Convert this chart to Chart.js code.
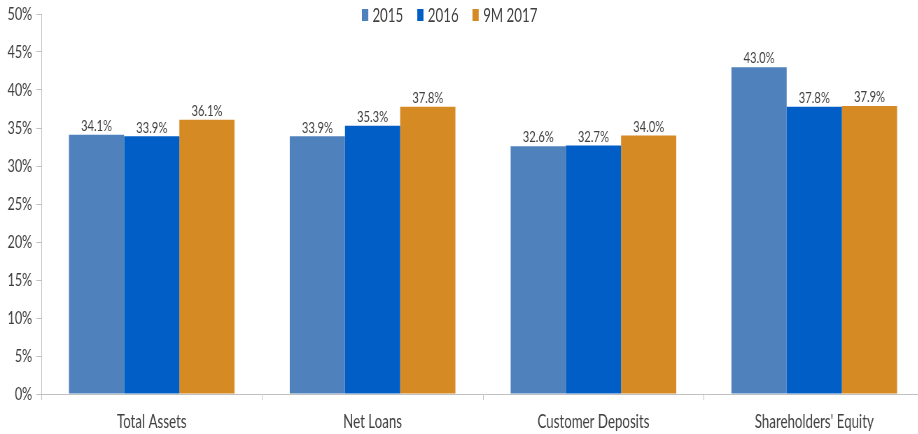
<!DOCTYPE html>
<html>
<head>
<meta charset="utf-8">
<script src="https://cdn.jsdelivr.net/npm/chart.js@4"></script>
<style>
  html, body { margin: 0; padding: 0; background: #fff; overflow: hidden; }
  /* the chart is laid out wide and squeezed horizontally for narrow lettering */
  #wrap { position: relative; width: 1323px; height: 434px; transform: scaleX(0.7); transform-origin: 0 0; }
  #legend {
    position: absolute; left: 517px; top: 4px;
    display: flex; font-family: Lato, sans-serif;
    font-size: 19px; color: #404040; line-height: 22px;
  }
  #legend .item { display: flex; align-items: center; margin-right: 20px; }
  #legend .box { width: 9px; height: 12px; margin-right: 6px; }
</style>
</head>
<body>
<div id="wrap">
  <canvas id="chart" width="1323" height="434"></canvas>
  <div id="legend"></div>
</div>
<script>
const categories = ['Total Assets', 'Net Loans', 'Customer Deposits', "Shareholders' Equity"];
const seriesNames = ['2015', '2016', '9M 2017'];
const values2015 = [34.1, 33.9, 32.6, 43.0];
const values2016 = [33.9, 35.3, 32.7, 37.8];
const values9M2017 = [36.1, 37.8, 34.0, 37.9];
const yTicks = [0, 5, 10, 15, 20, 25, 30, 35, 40, 45, 50];

const colors = ['#4f81bd', '#005ec6', '#d68a23'];
const fontFamily = 'Lato, sans-serif';
const textColor = '#404040';
const axisColor = '#c0c0c0';

// value labels above each bar
const barLabels = {
    id: 'barLabels',
    afterDatasetsDraw(chart) {
        const ctx = chart.ctx;
        ctx.save();
        ctx.font = '16px ' + fontFamily;
        ctx.fillStyle = textColor;
        ctx.textAlign = 'center';
        ctx.textBaseline = 'bottom';
        chart.data.datasets.forEach((ds, i) => {
            chart.getDatasetMeta(i).data.forEach((bar, j) => {
                ctx.fillText(ds.data[j].toFixed(1) + '%', bar.x, bar.y - 1);
            });
        });
        ctx.restore();
    }
};

const seriesValues = [values2015, values2016, values9M2017];

const legendEl = document.getElementById('legend');
seriesNames.forEach((name, i) => {
    const item = document.createElement('div');
    item.className = 'item';
    item.innerHTML = '<span class="box" style="background:' + colors[i] + '"></span><span>' + name + '</span>';
    legendEl.appendChild(item);
});

new Chart(document.getElementById('chart'), {
    type: 'bar',
    data: {
        labels: categories,
        datasets: seriesNames.map((name, i) => ({
            label: name,
            data: seriesValues[i],
            backgroundColor: colors[i],
            categoryPercentage: 0.75,
            barPercentage: 1.0
        }))
    },
    options: {
        responsive: false,
        animation: false,
        layout: { padding: { top: 14, right: 2 } },
        plugins: {
            legend: { display: false },
            tooltip: { enabled: false }
        },
        scales: {
            x: {
                grid: {
                    drawOnChartArea: false,
                    drawTicks: true,
                    tickLength: 6,
                    color: axisColor
                },
                border: { color: axisColor },
                ticks: {
                    color: textColor,
                    font: { family: fontFamily, size: 19 },
                    padding: 10
                },
                afterFit(scale) { scale.height = 40; }
            },
            y: {
                min: 0,
                max: 50,
                afterBuildTicks(scale) { scale.ticks = yTicks.map(v => ({ value: v })); },
                grid: {
                    drawOnChartArea: false,
                    drawTicks: true,
                    tickLength: 7,
                    color: axisColor
                },
                border: { color: axisColor },
                ticks: {
                    color: textColor,
                    font: { family: fontFamily, size: 18, lineHeight: 0.8 },
                    padding: 6,
                    callback: v => v + '%'
                },
                afterFit(scale) {
                    scale.width = 59;
                    scale.paddingTop = 0;
                    scale.paddingBottom = 0;
                }
            }
        }
    },
    plugins: [barLabels]
});
</script>
</body>
</html>
